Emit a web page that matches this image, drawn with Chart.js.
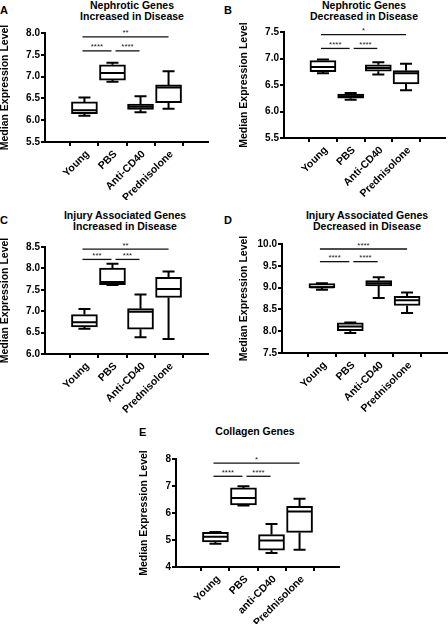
<!DOCTYPE html>
<html>
<head>
<meta charset="utf-8">
<script src="https://cdn.jsdelivr.net/npm/chart.js@4.4.1/dist/chart.umd.min.js"></script>
<style>
  body { margin: 0; width: 448px; height: 624px; position: relative; overflow: hidden; background: #fff;
         font-family: Arial, "Liberation Sans", sans-serif; font-weight: bold; color: #000; }
  canvas { position: absolute; }
  .letter { position: absolute; font-size: 11px; line-height: 11px; }
  .ttl { position: absolute; font-size: 10.5px; line-height: 11px; text-align: center; white-space: nowrap; transform: translateX(-50%); }
</style>
</head>
<body>
<div class="letter" style="left:0;top:5px">A</div>
<div class="letter" style="left:224px;top:5px">B</div>
<div class="letter" style="left:0;top:215px">C</div>
<div class="letter" style="left:224px;top:215px">D</div>
<div class="letter" style="left:139px;top:427px">E</div>

<div class="ttl" style="left:132px;top:0">Nephrotic Genes<br>Increased in Disease</div>
<div class="ttl" style="left:364px;top:0">Nephrotic Genes<br>Decreased in Disease</div>
<div class="ttl" style="left:125px;top:210px">Injury Associated Genes<br>Increased in Disease</div>
<div class="ttl" style="left:367px;top:210px">Injury Associated Genes<br>Decreased in Disease</div>
<div class="ttl" style="left:255px;top:426px">Collagen Genes</div>

<canvas id="chartA" width="224" height="200" style="left:0;top:0"></canvas>
<canvas id="chartB" width="224" height="200" style="left:224px;top:0"></canvas>
<canvas id="chartC" width="224" height="224" style="left:0;top:200px"></canvas>
<canvas id="chartD" width="224" height="224" style="left:224px;top:200px"></canvas>
<canvas id="chartE" width="250" height="224" style="left:100px;top:400px"></canvas>

<script>
// group names
const groups = ['Young', 'PBS', 'Anti-CD40', 'Prednisolone'];
const groupsE = ['Young', 'PBS', 'anti-CD40', 'Prednisolone'];

// A - nephrotic genes increased in disease
const nephUpMin = [6.10, 6.88, 6.18, 6.26];
const nephUpQ1  = [6.15, 6.92, 6.25, 6.40];
const nephUpMed = [6.23, 7.08, 6.31, 6.75];
const nephUpQ3  = [6.42, 7.27, 6.37, 6.81];
const nephUpMax = [6.52, 7.32, 6.55, 7.12];
const nephUpTicks = [5.5, 6.0, 6.5, 7.0, 7.5, 8.0];
const nephUpSig = [[0, 3, 7.91, '**'], [0, 1, 7.59, '****'], [1, 2, 7.59, '****']];

// B - nephrotic genes decreased in disease
const nephDownMin = [6.72, 6.22, 6.70, 6.40];
const nephDownQ1  = [6.75, 6.25, 6.76, 6.52];
const nephDownMed = [6.84, 6.29, 6.82, 6.72];
const nephDownQ3  = [6.96, 6.33, 6.88, 6.77];
const nephDownMax = [6.98, 6.35, 6.93, 6.90];
const nephDownTicks = [5.5, 6.0, 6.5, 7.0, 7.5];
const nephDownSig = [[0, 3, 7.45, '*'], [0, 1, 7.19, '****'], [1, 2, 7.19, '****']];

// C - injury associated genes increased in disease
const injuryUpMin = [6.59, 7.61, 6.39, 6.35];
const injuryUpQ1  = [6.63, 7.62, 6.58, 7.32];
const injuryUpMed = [6.74, 7.68, 6.99, 7.52];
const injuryUpQ3  = [6.92, 8.01, 7.06, 7.79];
const injuryUpMax = [7.05, 8.11, 7.39, 7.93];
const injuryUpTicks = [6.0, 6.5, 7.0, 7.5, 8.0, 8.5];
const injuryUpSig = [[0, 3, 8.45, '**'], [0, 1, 8.21, '***'], [1, 2, 8.21, '***']];

// D - injury associated genes decreased in disease
const injuryDownMin = [8.95, 7.96, 8.76, 8.42];
const injuryDownQ1  = [8.99, 8.01, 9.04, 8.59];
const injuryDownMed = [9.01, 8.11, 9.10, 8.71];
const injuryDownQ3  = [9.09, 8.19, 9.16, 8.80];
const injuryDownMax = [9.10, 8.20, 9.24, 8.89];
const injuryDownTicks = [7.5, 8.0, 8.5, 9.0, 9.5, 10.0];
const injuryDownSig = [[0, 3, 9.885, '****'], [0, 1, 9.595, '****'], [1, 2, 9.595, '****']];

// E - collagen genes
const collagenMin = [4.86, 6.28, 4.52, 4.64];
const collagenQ1  = [4.93, 6.30, 4.62, 5.28];
const collagenMed = [5.12, 6.56, 4.98, 6.06];
const collagenQ3  = [5.28, 6.93, 5.20, 6.25];
const collagenMax = [5.30, 6.99, 5.59, 6.53];
const collagenTicks = [4, 5, 6, 7, 8];
const collagenSig = [[0, 3, 7.85, '*'], [0, 1, 7.36, '****'], [1, 2, 7.36, '****']];

const FONT = 'Arial, "Liberation Sans", sans-serif';

// whiskers, caps and median line on top of the floating bars
const boxPlugin = {
  id: 'boxWhiskers',
  afterDatasetsDraw(chart, args, opts) {
    const ctx = chart.ctx, xs = chart.scales.x, ys = chart.scales.y;
    ctx.save();
    ctx.strokeStyle = '#000';
    ctx.lineWidth = 2;
    opts.med.forEach((m, i) => {
      const x = xs.getPixelForValue(i);
      const yMin = ys.getPixelForValue(opts.min[i]), yMax = ys.getPixelForValue(opts.max[i]);
      const yQ1 = ys.getPixelForValue(opts.q1[i]), yQ3 = ys.getPixelForValue(opts.q3[i]);
      const yMed = ys.getPixelForValue(m);
      ctx.beginPath();
      ctx.moveTo(x, yQ3); ctx.lineTo(x, yMax);
      ctx.moveTo(x - 6, yMax); ctx.lineTo(x + 6, yMax);
      ctx.moveTo(x, yQ1); ctx.lineTo(x, yMin);
      ctx.moveTo(x - 6, yMin); ctx.lineTo(x + 6, yMin);
      ctx.moveTo(x - 12, yMed); ctx.lineTo(x + 12, yMed);
      ctx.stroke();
    });
    ctx.restore();
  }
};

// significance bars with stars
const sigPlugin = {
  id: 'sigBars',
  afterDraw(chart, args, opts) {
    const ctx = chart.ctx, xs = chart.scales.x, ys = chart.scales.y;
    ctx.save();
    ctx.strokeStyle = '#111';
    ctx.fillStyle = '#222';
    ctx.lineWidth = 1.3;
    ctx.font = '8px ' + FONT;
    ctx.textAlign = 'center';
    ctx.textBaseline = 'alphabetic';
    opts.bars.forEach(b => {
      const x1 = xs.getPixelForValue(b[0]) + (b[0] === 0 ? -2 : 3);
      const x2 = xs.getPixelForValue(b[1]) + (b[1] === 3 ? 0 : -1);
      const y = ys.getPixelForValue(b[2]);
      ctx.beginPath();
      ctx.moveTo(x1, y); ctx.lineTo(x2, y);
      ctx.stroke();
      ctx.fillText(b[3], (x1 + x2) / 2, y - 1.5);
    });
    ctx.restore();
  }
};

function drawPanel(id, names, min, q1, med, q3, max, ticks, sig, dec, box) {
  const ctx = document.getElementById(id);
  const axisGrid = { drawOnChartArea: false, drawTicks: true, tickLength: 4, color: '#000', lineWidth: 2 };
  const axisBorder = { display: true, color: '#000', width: 2 };

  return new Chart(ctx, {
    type: 'bar',
    data: {
      datasets: [{
        data: names.map((n, i) => ({ x: i, y: [q1[i], q3[i]] })),
        backgroundColor: '#fff',
        borderColor: '#000',
        borderWidth: 2,
        borderSkipped: false,
        barThickness: 26
      }]
    },
    options: {
      responsive: false,
      animation: false,
      layout: { padding: { left: box.padL, top: box.top, right: box.right, bottom: 0 } },
      plugins: {
        legend: { display: false },
        tooltip: { enabled: false },
        boxWhiskers: { min: min, q1: q1, med: med, q3: q3, max: max },
        sigBars: { bars: sig }
      },
      scales: {
        x: {
          type: 'linear',
          min: -0.68,
          max: 3.68,
          afterBuildTicks: s => { s.ticks = names.map((n, i) => ({ value: i })); },
          afterFit: s => { s.height = box.xh; },
          ticks: {
            autoSkip: false, minRotation: 45, maxRotation: 45, padding: 2, labelOffset: 3, color: '#000',
            font: { family: FONT, size: 10.5, weight: 'bold' },
            callback: v => names[v]
          },
          grid: axisGrid,
          border: axisBorder
        },
        y: {
          min: ticks[0],
          max: ticks[ticks.length - 1],
          afterBuildTicks: s => { s.ticks = ticks.map(v => ({ value: v })); },
          afterFit: s => { s.width = box.yw; },
          ticks: {
            padding: 1, color: '#000',
            font: { family: FONT, size: 10, weight: 'bold' },
            callback: v => v.toFixed(dec)
          },
          grid: axisGrid,
          border: axisBorder,
          title: {
            display: true, text: 'Median Expression Level', color: '#000', padding: 0,
            font: { family: FONT, size: 10.5, weight: 'bold', lineHeight: 1 }
          }
        }
      }
    },
    plugins: [boxPlugin, sigPlugin]
  });
}

drawPanel('chartA', groups, nephUpMin, nephUpQ1, nephUpMed, nephUpQ3, nephUpMax, nephUpTicks, nephUpSig, 1,
  { padL: 0, yw: 45, top: 33, right: 16, xh: 58 });
drawPanel('chartB', groups, nephDownMin, nephDownQ1, nephDownMed, nephDownQ3, nephDownMax, nephDownTicks, nephDownSig, 1,
  { padL: 15, yw: 45, top: 32, right: 3, xh: 62 });
drawPanel('chartC', groups, injuryUpMin, injuryUpQ1, injuryUpMed, injuryUpQ3, injuryUpMax, injuryUpTicks, injuryUpSig, 1,
  { padL: 0, yw: 45, top: 47, right: 16, xh: 70 });
drawPanel('chartD', groups, injuryDownMin, injuryDownQ1, injuryDownMed, injuryDownQ3, injuryDownMax, injuryDownTicks, injuryDownSig, 1,
  { padL: 15, yw: 43, top: 44, right: 1, xh: 71 });
drawPanel('chartE', groupsE, collagenMin, collagenQ1, collagenMed, collagenQ3, collagenMax, collagenTicks, collagenSig, 0,
  { padL: 39, yw: 37, top: 59, right: 11, xh: 57 });
</script>
</body>
</html>
